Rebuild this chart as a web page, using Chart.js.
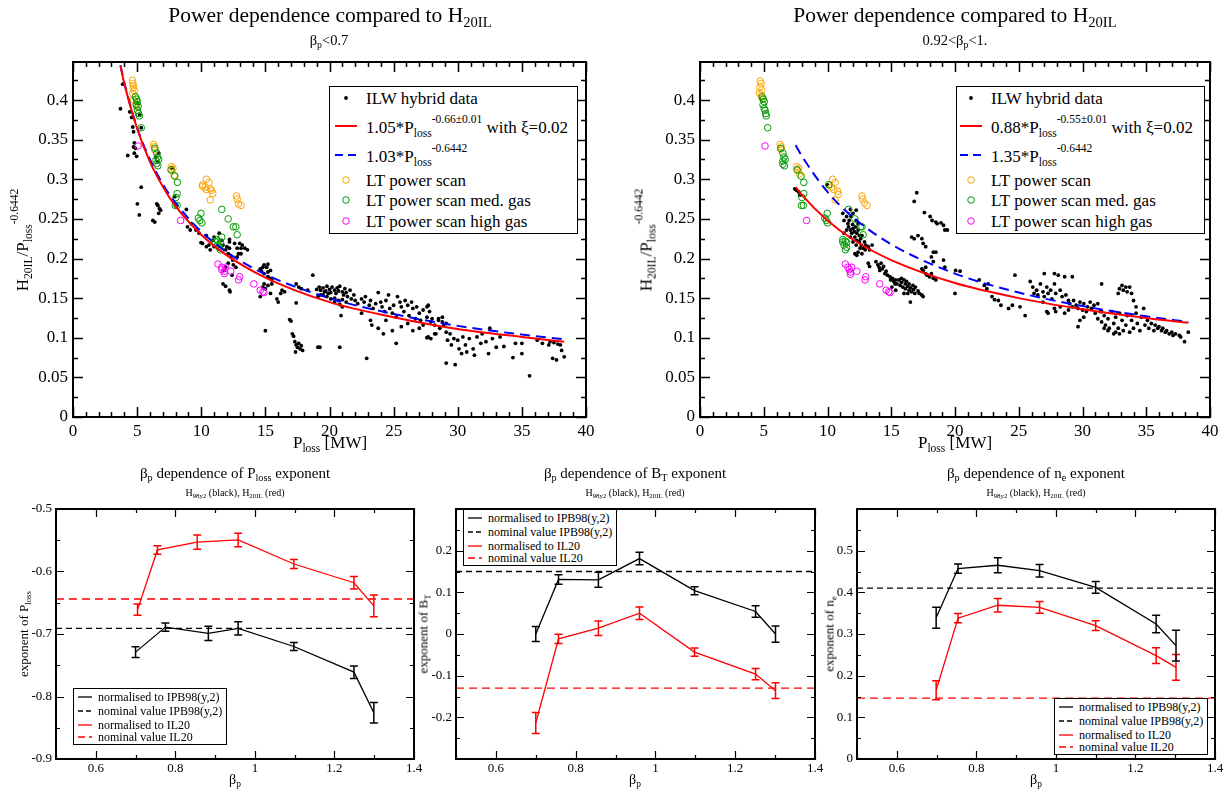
<!DOCTYPE html>
<html>
<head>
<meta charset="utf-8">
<script src="https://cdn.jsdelivr.net/npm/chart.js@4.4.1/dist/chart.umd.min.js"></script>
<style>
  html, body { margin: 0; padding: 0; background: #fff; }
  body { width: 1230px; height: 792px; position: relative; overflow: hidden; font-family: "Liberation Serif", "Times New Roman", serif; }
  canvas { position: absolute; }
  .lbl { position: absolute; white-space: nowrap; line-height: 1; color: #000; }
  .lbl sub { font-size: 0.68em; vertical-align: -0.35em; line-height: 0; }
  .lbl sup { font-size: 0.68em; vertical-align: 0.8em; line-height: 0; }
  .box { position: absolute; border: 1.5px solid #000; background: #fff; box-sizing: border-box; }
  svg.sym { position: absolute; overflow: visible; }
</style>
</head>
<body>
<canvas id="tl"></canvas>
<canvas id="tr"></canvas>
<canvas id="bl"></canvas>
<canvas id="bm"></canvas>
<canvas id="br"></canvas>
<script>
// ---------- top left: beta_p < 0.7 ----------
const tlHybrid = [
  [3.70,.389],[3.88,.420],[4.27,.330],[4.42,.385],[4.57,.378],[4.66,.366],[4.72,.360],[4.78,.346],[4.72,.341],[4.87,.339],
  [4.78,.333],[4.96,.329],[5.02,.269],[5.17,.255],[5.32,.290],[5.08,.396],[5.20,.381],[5.32,.365],
  [6.23,.248],[6.38,.246],[6.53,.269],[6.62,.267],[6.74,.263],[6.68,.257],[6.83,.261],[6.47,.328],[6.59,.322],[6.68,.333],
  [7.94,.278],[7.73,.314],[8.05,.267],
  [8.84,.262],[8.93,.240],[9.14,.236],[9.59,.236],[9.23,.244],[9.83,.232],[9.98,.220],[10.1,.219],[10.4,.229],[10.4,.215],
  [10.6,.217],[10.7,.211],[10.9,.223],[11.0,.227],[11.0,.215],
  [11.4,.232],[11.6,.223],[11.7,.217],[11.9,.211],[12.0,.215],[12.1,.206],[12.2,.221],[12.2,.213],[12.3,.202],[12.45,.198],
  [12.5,.192],[12.7,.189],[12.8,.202],[12.8,.213],[13.0,.219],[13.1,.213],[13.2,.217],[13.4,.213],[13.6,.211],[13.1,.206],
  [12.9,.206],[12.6,.219],[12.2,.224],
  [11.7,.168],[11.9,.165],[12.2,.160],[12.25,.158],[12.4,.179],[11.9,.189],[12.1,.194],[11.8,.185],
  [14.6,.187],[14.8,.189],[14.9,.192],[15.1,.189],[15.2,.193],[15.4,.185],[15.2,.183],[14.9,.181],[14.7,.184],[15.2,.177],
  [15.4,.175],[15.5,.173],[14.9,.168],[15.2,.166],[15.5,.168],[14.8,.164],[15.0,.162],[14.6,.152],[15.4,.156],[15.9,.149],
  [16.0,.145],[16.3,.160],[16.5,.158],[16.2,.156],[15.0,.109],
  [17.4,.168],[17.6,.164],[17.8,.162],[17.4,.144],[16.9,.123],[17.0,.121],[17.1,.105],[17.2,.102],[17.3,.095],[17.4,.091],
  [17.5,.088],[17.6,.093],[17.7,.086],[17.8,.090],[17.35,.082],[17.9,.084],
  [18.7,.179],[18.3,.160],[19.1,.088],[19.25,.088],[20.8,.088],[20.9,.128],[22.9,.074],
  [19.0,.161],[19.2,.164],[19.3,.160],[19.5,.163],[19.7,.159],[19.8,.165],[20.0,.161],[20.1,.157],[20.2,.164],[20.4,.160],
  [20.5,.156],[20.6,.163],[20.7,.159],[20.8,.165],[21.0,.158],[21.1,.154],[21.2,.162],[21.3,.157],[21.4,.152],[21.6,.160],
  [21.7,.149],[21.9,.154],[19.5,.154],[19.8,.152],[20.1,.149],[20.4,.150],[20.7,.147],[21.0,.148],[21.3,.145],[20.8,.142],
  [20.4,.145],[19.9,.156],[19.6,.158],[19.3,.154],[19.1,.152],[21.0,.139],[22.0,.147],[22.2,.143],
  [22.5,.149],[22.7,.145],[22.8,.152],[23.1,.141],[23.2,.147],[23.4,.137],[23.6,.143],[23.8,.157],[24.0,.145],[24.1,.139],
  [24.3,.133],[24.4,.147],[24.6,.154],[24.7,.137],[24.9,.131],[25.0,.141],[25.2,.126],[25.3,.152],[25.5,.145],[25.6,.139],
  [25.8,.133],[25.9,.147],[26.1,.141],[26.2,.128],[26.4,.145],[26.5,.137],[26.7,.124],[26.8,.139],[27.0,.131],[27.1,.122],
  [27.3,.135],[27.7,.141],[27.6,.126],[27.9,.120],[28.0,.124],[28.2,.116],[28.5,.122],[28.8,.126],[28.9,.116],[22.5,.131],
  [23.2,.122],[23.3,.116],[23.8,.112],[24.2,.105],[24.9,.109],[25.2,.093],[24.4,.122],[25.6,.114],[26.1,.118],[26.5,.109],
  [27.0,.112],[27.6,.100],[27.9,.099],[28.3,.105],[27.3,.116],[27.6,.139],[27.8,.133],[28.5,.124],[28.8,.120],[29.1,.118],
  [28.6,.112],[28.2,.105],[27.7,.101],
  [29.1,.107],[29.2,.097],[29.4,.105],[29.1,.068],[29.8,.066],[29.5,.091],[29.7,.099],[30.0,.097],[30.1,.086],[30.3,.080],
  [30.4,.101],[30.6,.091],[30.7,.082],[30.9,.099],[31.2,.086],[31.3,.078],[31.5,.101],[31.8,.093],[31.9,.105],[32.2,.095],
  [32.4,.080],[32.5,.112],[32.7,.099],[33.0,.088],[33.3,.101],[33.6,.089],[34.3,.075],[34.5,.093],[35.0,.080],[35.0,.093],
  [35.6,.052],[36.2,.097],[36.6,.093],[37.1,.091],[37.2,.095],[37.4,.074],[37.7,.072],[37.8,.092],[38.1,.084],[38.3,.076],
  [37.5,.094],[38.0,.091]
];
const tlOrange = [
  [4.63,.425],[4.66,.421],[4.72,.418],[4.69,.415],[4.78,.412],[4.66,.408],[4.87,.404],[4.72,.400],[4.93,.396],[4.96,.392],
  [6.29,.344],[6.35,.341],[6.38,.337],[7.67,.316],[7.79,.314],[7.73,.311],[7.88,.305],
  [10.1,.293],[10.4,.300],[10.6,.296],[10.3,.290],[10.4,.287],[10.7,.288],[10.8,.286],[10.7,.274],[10.9,.282],[10.1,.291],
  [12.75,.279],[12.8,.275],[12.9,.269],[13.1,.267]
];
const tlGreen = [
  [4.87,.404],[4.96,.401],[5.02,.398],[4.93,.394],[5.08,.392],[5.02,.387],[5.11,.383],[5.17,.380],[5.32,.365],
  [6.38,.339],[6.53,.333],[6.59,.328],[6.47,.324],[6.68,.325],[6.53,.320],[6.62,.317],
  [7.64,.312],[7.94,.304],[8.14,.296],[8.12,.282],[8.02,.277],[7.97,.267],[8.12,.267],
  [9.77,.251],[9.98,.257],[9.89,.248],[10.05,.245],
  [11.2,.224],[11.3,.222],[11.5,.220],[11.3,.217],[11.4,.214],[11.5,.211],[11.1,.221],[11.6,.227],
  [11.6,.262],[12.1,.250],[12.5,.240],[12.7,.240],[12.8,.230]
];
const tlMagenta = [
  [5.08,.342],[8.39,.248],[11.3,.193],[11.6,.189],[11.6,.186],[11.8,.184],[11.8,.181],[11.9,.189],[12.3,.184],
  [13.0,.177],[12.9,.173],[14.1,.168],[14.6,.160],[14.8,.158],[14.9,.157]
];
const tlFitP = [3.7, 4, 5, 6, 7, 8, 10, 12, 15, 20, 25, 30, 35, 38.3];
const tlFitRed = [0.443, 0.421, 0.364, 0.322, 0.291, 0.266, 0.230, 0.204, 0.176, 0.145, 0.126, 0.111, 0.101, 0.095];
const tlFitBlue = [0.444, 0.422, 0.365, 0.325, 0.294, 0.270, 0.234, 0.208, 0.180, 0.150, 0.130, 0.115, 0.104, 0.098];

// ---------- top right: 0.92 < beta_p < 1 ----------
const trHybrid = [
  [7.43,.288],[7.58,.286],[7.74,.284],[7.83,.280],[10.0,.293],
  [11.2,.257],[11.3,.248],[11.5,.253],[11.6,.244],[11.65,.240],[11.7,.248],[11.8,.236],[11.85,.253],[11.9,.232],[11.97,.243],
  [12.0,.238],[12.1,.234],[12.15,.227],[12.2,.240],[12.3,.232],[12.3,.223],[12.4,.236],[12.5,.229],[12.5,.221],[12.6,.225],
  [12.65,.217],[12.7,.229],[12.8,.213],[12.9,.221],[12.95,.211],[13.0,.217],[13.2,.215],[13.3,.211],[13.5,.217],[11.8,.227],
  [12.0,.221],[12.25,.217],[11.5,.236],[11.3,.232],[12.25,.248],[12.4,.244],[12.25,.261],[12.0,.257],[11.8,.262],[12.55,.213],
  [12.7,.206],[12.4,.208],[12.15,.206],[12.3,.204],
  [13.2,.194],[13.3,.190],[13.8,.196],[13.95,.192],[14.05,.189],[14.2,.194],[14.3,.187],[14.4,.190],[14.1,.185],[14.6,.184],
  [14.5,.181],
  [14.7,.179],[14.9,.177],[14.95,.173],[15.1,.175],[15.2,.171],[15.35,.173],[15.45,.168],[15.6,.173],[15.7,.166],[15.8,.175],
  [15.8,.170],[15.9,.164],[16.0,.173],[16.1,.168],[16.1,.162],[16.2,.171],[16.3,.165],[16.4,.160],[16.4,.168],[16.5,.163],
  [16.6,.158],[16.7,.166],[16.75,.161],[16.85,.156],[16.9,.164],[17.1,.159],[17.2,.156],[17.4,.154],[17.5,.152],[16.5,.145],
  [15.05,.164],[15.35,.160],[15.3,.168],[16.0,.156],[16.3,.156],
  [16.8,.272],[17.0,.283],[16.6,.227],[16.8,.225],[17.1,.229],[17.4,.225],[17.5,.219],[17.7,.215],[17.6,.258],[18.05,.253],
  [18.2,.248],[18.5,.246],[18.6,.244],[18.9,.245],[19.1,.242],[19.2,.236],[19.4,.236],[18.3,.208],[18.5,.208],[18.15,.202],
  [18.3,.196],[19.1,.198],[19.2,.189],
  [17.5,.185],[17.7,.181],[17.8,.179],[18.0,.177],[18.15,.181],[18.3,.175],[18.5,.173],[17.7,.189],[17.4,.187],
  [20.05,.185],[20.4,.184],[20.0,.156],[21.9,.173],[22.3,.166],[22.5,.162],[22.6,.168],[22.9,.152],[23.1,.148],[23.4,.147],
  [23.6,.141],[24.2,.137],[24.5,.141],[24.7,.179],[25.1,.139],[25.5,.128],
  [25.9,.171],[26.1,.164],[26.2,.156],[26.4,.160],[26.5,.154],[26.7,.168],[26.9,.158],[27.0,.152],[26.9,.145],[27.0,.181],
  [27.2,.164],[27.3,.156],[27.5,.160],[27.6,.149],[27.8,.168],[27.8,.181],[27.9,.156],[28.1,.179],[28.25,.160],[28.4,.152],
  [28.6,.177],[28.7,.154],[28.9,.147],[29.2,.177],[29.0,.143],[29.3,.147],[29.5,.141],[29.65,.137],[29.8,.145],[30.0,.135],
  [30.1,.143],[27.2,.133],[27.3,.131],[27.8,.137],[27.9,.133],[28.25,.139],[28.6,.131],[28.9,.135],[29.2,.139],[29.65,.114],
  [29.8,.122],[30.1,.126],[30.3,.133],
  [30.4,.139],[30.6,.145],[30.7,.137],[30.9,.141],[31.0,.131],[31.2,.124],[31.4,.133],[31.5,.168],[31.5,.120],[31.7,.128],
  [31.8,.116],[32.0,.124],[32.1,.112],[32.3,.133],[32.45,.118],[32.6,.126],[32.8,.112],[32.8,.156],[32.9,.162],[33.1,.166],
  [33.2,.160],[33.4,.164],[33.5,.158],[33.7,.164],[33.85,.156],[34.0,.147],[34.2,.139],[32.9,.131],[33.1,.122],[33.2,.109],
  [33.4,.116],[33.5,.128],[33.7,.107],[33.85,.122],[34.0,.112],[34.2,.131],[34.3,.118],[34.5,.109],[34.6,.126],[34.8,.137],
  [34.9,.116],[35.1,.122],[35.2,.112],[35.4,.118],[35.6,.109],[35.7,.116],[35.9,.112],[36.0,.114],[36.2,.109],[36.3,.112],
  [36.5,.107],[36.6,.109],[36.8,.105],[37.0,.107],[37.1,.103],[37.3,.105],[37.6,.103],[37.7,.101],[38.0,.095],[38.3,.107],
  [32.45,.105],[32.6,.107],[32.9,.105],[32.0,.109],[31.7,.112],[31.5,.133],[31.2,.143]
];
const trOrange = [
  [4.72,.424],[4.79,.421],[4.69,.416],[4.85,.413],[4.66,.409],[4.79,.406],[4.88,.402],
  [6.28,.344],[6.37,.341],[6.34,.338],[7.58,.316],[7.74,.314],[7.68,.311],[7.8,.307],
  [10.1,.293],[10.4,.300],[10.6,.296],[10.3,.290],[10.5,.287],[10.8,.285],[10.85,.281],[10.6,.274],
  [12.7,.279],[12.75,.275],[12.9,.270],[13.1,.267]
];
const trGreen = [
  [4.88,.404],[4.97,.401],[5.04,.398],[4.94,.394],[5.04,.389],[5.1,.387],[5.16,.383],[5.19,.380],[5.31,.365],
  [6.34,.339],[6.5,.333],[6.59,.328],[6.5,.323],[6.68,.325],[6.5,.319],[6.62,.317],
  [7.61,.312],[7.93,.304],[8.14,.296],[8.14,.282],[7.99,.277],[7.96,.267],[8.11,.267],
  [9.79,.251],[9.98,.257],[9.91,.248],[10.0,.245],[10.1,.293],
  [11.2,.224],[11.4,.222],[11.5,.220],[11.3,.217],[11.5,.214],[11.4,.211],[11.2,.221],
  [11.65,.262],[12.15,.250],[12.6,.240],[12.7,.240],[12.8,.230]
];
const trMagenta = [
  [5.1,.342],[8.36,.248],[11.4,.193],[11.6,.189],[11.7,.186],[11.8,.183],[11.8,.180],[11.9,.189],[12.3,.184],
  [13.0,.177],[12.95,.173],[14.1,.168],[14.6,.160],[14.8,.158],[14.9,.157]
];
const trFitRedP = [7.5, 8, 10, 12, 15, 20, 25, 30, 35, 38.3];
const trFitRed = [0.290, 0.280, 0.248, 0.224, 0.198, 0.169, 0.150, 0.136, 0.125, 0.119];
const trFitBlue = [0.343, 0.329, 0.284, 0.252, 0.218, 0.181, 0.157, 0.140, 0.127, 0.120];

// ---------- bottom: beta_p dependence of exponents ----------
const plossBetaBlack = [0.70, 0.775, 0.883, 0.958, 1.098, 1.249, 1.299];
const plossBlack = [-0.729, -0.689, -0.699, -0.691, -0.720, -0.761, -0.826];
const plossBlackErr = [0.0085, 0.0067, 0.0115, 0.0107, 0.0064, 0.010, 0.0165];
const plossBetaRed = [0.705, 0.755, 0.855, 0.958, 1.098, 1.249, 1.299];
const plossRed = [-0.661, -0.5655, -0.553, -0.5495, -0.588, -0.618, -0.655];
const plossRedErr = [0.009, 0.0067, 0.0115, 0.0107, 0.0072, 0.0099, 0.0173];
const plossNominal = [-0.691, -0.644];

const btBeta = [0.70, 0.757, 0.857, 0.96, 1.098, 1.251, 1.301];
const btBlack = [0.0, 0.131, 0.130, 0.181, 0.104, 0.054, 0.0];
const btBlackErr = [0.018, 0.0115, 0.018, 0.015, 0.0096, 0.0136, 0.0195];
const btRed = [-0.2136, -0.0116, 0.014, 0.05, -0.0435, -0.0962, -0.136];
const btRedErr = [0.025, 0.011, 0.0175, 0.015, 0.01, 0.0135, 0.019];
const btNominal = [0.15, -0.13];

const neBeta = [0.699, 0.754, 0.854, 0.959, 1.10, 1.252, 1.302];
const neBlack = [0.339, 0.457, 0.465, 0.452, 0.412, 0.324, 0.272];
const neBlackErr = [0.025, 0.011, 0.018, 0.015, 0.014, 0.021, 0.037];
const neRed = [0.165, 0.338, 0.369, 0.364, 0.320, 0.248, 0.220];
const neRedErr = [0.023, 0.011, 0.016, 0.014, 0.0116, 0.019, 0.031];
const neNominal = [0.41, 0.146];

const topXTicks = [0, 5, 10, 15, 20, 25, 30, 35, 40];
const topYTicks = [0, 0.05, 0.1, 0.15, 0.2, 0.25, 0.3, 0.35, 0.4];
const betaTicks = [0.6, 0.8, 1, 1.2, 1.4];
const plossTicks = [-0.9, -0.8, -0.7, -0.6, -0.5];
const btTicks = [-0.3, -0.2, -0.1, 0, 0.1, 0.2, 0.3];
const neTicks = [0, 0.1, 0.2, 0.3, 0.4, 0.5, 0.6];

// ---------- helpers ----------
const FONT = 'Liberation Serif';
const pts = arr => arr.map(([x, y]) => ({x, y}));
const zip = (xs, ys) => xs.map((x, i) => ({x, y: ys[i]}));
const fmt = v => String(parseFloat(v.toFixed(3)));

const frameTicks = {
  id: 'frameTicks',
  afterDraw(chart, args, o) {
    const {ctx, chartArea: a} = chart;
    const xs = chart.scales.x, ys = chart.scales.y;
    const steps = (s, step) => {
      const out = [];
      const n = Math.floor((s.max - s.min) / step + 1e-6);
      for (let i = 0; i <= n; i++) out.push(s.min + i * step);
      return out;
    };
    const isMajor = (s, v) => s.ticks.some(t => Math.abs(t.value - v) < 1e-6);
    ctx.save();
    ctx.strokeStyle = '#000';
    ctx.lineWidth = o.tickWidth;
    ctx.beginPath();
    steps(xs, o.xMinor).forEach(v => {
      const len = isMajor(xs, v) ? o.major : o.minor;
      const p = Math.round(xs.getPixelForValue(v)) + 0.5;
      ctx.moveTo(p, a.bottom); ctx.lineTo(p, a.bottom - len);
      ctx.moveTo(p, a.top); ctx.lineTo(p, a.top + len);
    });
    steps(ys, o.yMinor).forEach(v => {
      const len = isMajor(ys, v) ? o.major : o.minor;
      const p = Math.round(ys.getPixelForValue(v)) + 0.5;
      ctx.moveTo(a.left, p); ctx.lineTo(a.left + len, p);
      ctx.moveTo(a.right, p); ctx.lineTo(a.right - len, p);
    });
    ctx.stroke();
    ctx.lineWidth = o.frameWidth;
    ctx.strokeRect(a.left, a.top, a.width, a.height);
    ctx.restore();
  }
};

const errorBars = {
  id: 'errorBars',
  afterDatasetsDraw(chart) {
    const ctx = chart.ctx;
    const ys = chart.scales.y;
    chart.data.datasets.forEach((ds, i) => {
      if (!ds.errors) return;
      const meta = chart.getDatasetMeta(i);
      ctx.save();
      ctx.strokeStyle = ds.borderColor;
      ctx.lineWidth = 1.5;
      ctx.beginPath();
      meta.data.forEach((pt, j) => {
        const v = ds.data[j].y, e = ds.errors[j];
        const y1 = ys.getPixelForValue(v - e), y2 = ys.getPixelForValue(v + e);
        ctx.moveTo(pt.x, y1); ctx.lineTo(pt.x, y2);
        ctx.moveTo(pt.x - 4, y1); ctx.lineTo(pt.x + 4, y1);
        ctx.moveTo(pt.x - 4, y2); ctx.lineTo(pt.x + 4, y2);
      });
      ctx.stroke();
      ctx.restore();
    });
  }
};

function axis(min, max, ticks, hide, size, fit, isX, pad) {
  return {
    type: 'linear', min, max,
    afterBuildTicks: s => { s.ticks = ticks.map(v => ({value: v})); },
    afterFit: s => { if (isX) s.height = fit; else s.width = fit; },
    grid: {display: false, drawTicks: false},
    border: {display: false},
    ticks: {
      font: {family: FONT, size},
      color: '#000',
      padding: pad,
      autoSkip: false,
      maxRotation: 0,
      callback: v => hide.some(h => Math.abs(h - v) < 1e-9) ? '' : fmt(v)
    }
  };
}

function makeChart(id, box, layout, scales, datasets, frame) {
  const cv = document.getElementById(id);
  cv.width = box.w; cv.height = box.h;
  cv.style.left = box.left + 'px'; cv.style.top = box.top + 'px';
  cv.style.width = box.w + 'px'; cv.style.height = box.h + 'px';
  return new Chart(cv.getContext('2d'), {
    type: 'scatter',
    data: {datasets},
    options: {
      responsive: false,
      animation: false,
      events: [],
      layout: {padding: {top: layout.top, right: layout.right, left: 0, bottom: 0}},
      scales,
      plugins: {legend: {display: false}, tooltip: {enabled: false}, frameTicks: frame}
    },
    plugins: [frameTicks, errorBars]
  });
}

const curveDs = (data, color, dash) => ({
  data, showLine: true, borderColor: color, borderWidth: 2, borderDash: dash || [],
  pointRadius: 0, cubicInterpolationMode: 'monotone'
});
const ringDs = (data, color) => ({
  data, showLine: false, pointRadius: 3.3, pointBorderColor: color, pointBackgroundColor: 'rgba(0,0,0,0)', pointBorderWidth: 1
});
const dotDs = data => ({
  data, showLine: false, pointRadius: 1.9, pointBackgroundColor: '#000', pointBorderWidth: 0
});
const expDs = (xs, ys, errs, color) => ({
  data: zip(xs, ys), errors: errs, showLine: true, borderColor: color, borderWidth: 1.3, pointRadius: 0
});
const nomDs = (v, color, dash) => ({
  data: [{x: 0.5, y: v}, {x: 1.4, y: v}], showLine: true, borderColor: color, borderWidth: 1.3, borderDash: dash, pointRadius: 0
});

const topFrame = {tickWidth: 1.5, frameWidth: 2, major: 10, minor: 5, xMinor: 1, yMinor: 0.025};
const botFrame = {tickWidth: 1.2, frameWidth: 2, major: 8, minor: 4, xMinor: 0.1, yMinor: 0.05};

makeChart('tl', {left: 0, top: 0, w: 615, h: 460}, {top: 62, right: 29}, {
  x: axis(0, 40, topXTicks, [], 17, 43, true, 4),
  y: axis(0, 0.448, topYTicks, [], 17, 73, false, 5)
}, [
  curveDs(zip(tlFitP, tlFitRed), '#ff0000'),
  curveDs(zip(tlFitP, tlFitBlue), '#0000ff', [10, 6]),
  ringDs(pts(tlMagenta), '#ff00ff'),
  ringDs(pts(tlGreen), '#009a00'),
  ringDs(pts(tlOrange), '#ffa500'),
  dotDs(pts(tlHybrid))
], topFrame);

makeChart('tr', {left: 615, top: 0, w: 615, h: 460}, {top: 62, right: 20}, {
  x: axis(0, 40, topXTicks, [], 17, 43, true, 4),
  y: axis(0, 0.448, topYTicks, [], 17, 85, false, 5)
}, [
  curveDs(zip(trFitRedP, trFitRed), '#ff0000'),
  curveDs(zip(trFitRedP, trFitBlue), '#0000ff', [10, 6]),
  ringDs(pts(trMagenta), '#ff00ff'),
  ringDs(pts(trGreen), '#009a00'),
  ringDs(pts(trOrange), '#ffa500'),
  dotDs(pts(trHybrid))
], topFrame);

makeChart('bl', {left: 0, top: 460, w: 430, h: 332}, {top: 49, right: 16}, {
  x: axis(0.5, 1.4, betaTicks, [], 13, 33, true, 2),
  y: axis(-0.9, -0.5, plossTicks, [], 13, 56, false, 4)
}, [
  expDs(plossBetaRed, plossRed, plossRedErr, '#ff0000'),
  nomDs(plossNominal[1], '#ff0000', [8, 5]),
  expDs(plossBetaBlack, plossBlack, plossBlackErr, '#000000'),
  nomDs(plossNominal[0], '#000000', [6, 4])
], botFrame);

makeChart('bm', {left: 420, top: 460, w: 410, h: 332}, {top: 49, right: 15}, {
  x: axis(0.5, 1.4, betaTicks, [], 13, 33, true, 2),
  y: axis(-0.3, 0.3, btTicks, [-0.3, 0.3], 13, 36, false, 4)
}, [
  expDs(btBeta, btRed, btRedErr, '#ff0000'),
  nomDs(btNominal[1], '#ff0000', [8, 5]),
  expDs(btBeta, btBlack, btBlackErr, '#000000'),
  nomDs(btNominal[0], '#000000', [6, 4])
], botFrame);

makeChart('br', {left: 825, top: 460, w: 405, h: 332}, {top: 49, right: 15}, {
  x: axis(0.5, 1.4, betaTicks, [], 13, 33, true, 2),
  y: axis(0, 0.6, neTicks, [0.6], 13, 32, false, 4)
}, [
  expDs(neBeta, neRed, neRedErr, '#ff0000'),
  nomDs(neNominal[1], '#ff0000', [8, 5]),
  expDs(neBeta, neBlack, neBlackErr, '#000000'),
  nomDs(neNominal[0], '#000000', [6, 4])
], botFrame);

// ---------- text and legends ----------
function put(html, x, y, size, o = {}) {
  const d = document.createElement('div');
  d.className = 'lbl';
  d.innerHTML = html;
  d.style.left = x + 'px';
  d.style.top = y + 'px';
  d.style.fontSize = size + 'px';
  const tx = o.left ? '0' : '-50%';
  d.style.transform = `translate(${tx},-50%)` + (o.rotate ? ' rotate(-90deg)' : '');
  document.body.appendChild(d);
  return d;
}
function boxAt(x, y, w, h, bw) {
  const d = document.createElement('div');
  d.className = 'box';
  Object.assign(d.style, {left: x + 'px', top: y + 'px', width: w + 'px', height: h + 'px', borderWidth: bw + 'px'});
  document.body.appendChild(d);
}
function svgLine(x1, x2, y, color, dash, width) {
  const s = document.createElementNS('http://www.w3.org/2000/svg', 'svg');
  s.setAttribute('class', 'sym');
  s.setAttribute('width', x2 - x1); s.setAttribute('height', 6);
  s.style.left = x1 + 'px'; s.style.top = (y - 3) + 'px';
  s.innerHTML = `<line x1="0" y1="3" x2="${x2 - x1}" y2="3" stroke="${color}" stroke-width="${width}" ${dash ? `stroke-dasharray="${dash}"` : ''}/>`;
  document.body.appendChild(s);
}
function svgMark(x, y, color, filled) {
  const s = document.createElementNS('http://www.w3.org/2000/svg', 'svg');
  s.setAttribute('class', 'sym');
  s.setAttribute('width', 10); s.setAttribute('height', 10);
  s.style.left = (x - 5) + 'px'; s.style.top = (y - 5) + 'px';
  s.innerHTML = filled
    ? `<circle cx="5" cy="5" r="1.9" fill="${color}"/>`
    : `<circle cx="5" cy="5" r="3.3" fill="none" stroke="${color}" stroke-width="1"/>`;
  document.body.appendChild(s);
}

// top titles
put('Power dependence compared to H<sub>20IL</sub>', 330, 16, 21.5);
put('β<sub>p</sub>&lt;0.7', 329, 40, 14.5);
put('Power dependence compared to H<sub>20IL</sub>', 955, 16, 21.5);
put('0.92&lt;β<sub>p</sub>&lt;1.', 955, 40, 14.5);
put('P<sub>loss</sub> [MW]', 330, 442, 17);
put('P<sub>loss</sub> [MW]', 955, 442, 17);
put('H<sub>20IL</sub>/P<sub>loss</sub><sup>-0.6442</sup>', 22, 240, 17, {rotate: true});
put('H<sub>20IL</sub>/P<sub>loss</sub><sup>-0.6442</sup>', 646, 240, 17, {rotate: true});

// top legends
const topLegends = [
  {x: 329, sx: 346, tx: 366, red: '1.05*P<sub>loss</sub><sup>-0.66±0.01</sup> with ξ=0.02', blue: '1.03*P<sub>loss</sub><sup>-0.6442</sup>'},
  {x: 956, sx: 971, tx: 991, red: '0.88*P<sub>loss</sub><sup>-0.55±0.01</sup> with ξ=0.02', blue: '1.35*P<sub>loss</sub><sup>-0.6442</sup>'}
];
topLegends.forEach(L => {
  boxAt(L.x, 86, 249, 148, 1.5);
  svgMark(L.sx, 98, '#000', true);
  put('ILW hybrid data', L.tx, 98, 17, {left: true});
  svgLine(L.sx - 11, L.sx + 11, 126, '#ff0000', null, 2);
  put(L.red, L.tx, 127, 17, {left: true});
  svgLine(L.sx - 11, L.sx + 11, 155, '#0000ff', '8,5', 2);
  put(L.blue, L.tx, 156, 17, {left: true});
  svgMark(L.sx, 180, '#ffa500', false);
  put('LT power scan', L.tx, 180, 17, {left: true});
  svgMark(L.sx, 200, '#009a00', false);
  put('LT power scan med. gas', L.tx, 200, 17, {left: true});
  svgMark(L.sx, 221, '#ff00ff', false);
  put('LT power scan high gas', L.tx, 221, 17, {left: true});
});

// bottom titles
const bottoms = [
  {cx: 235, title: 'β<sub>p</sub> dependence of P<sub>loss</sub> exponent', yl: 'exponent of P<sub>loss</sub>', ylx: 23, lg: {x: 73, y: 688}},
  {cx: 635, title: 'β<sub>p</sub> dependence of B<sub>T</sub> exponent', yl: 'exponent of B<sub>T</sub>', ylx: 423, lg: {x: 463, y: 509}},
  {cx: 1036, title: 'β<sub>p</sub> dependence of n<sub>e</sub> exponent', yl: 'exponent of n<sub>e</sub>', ylx: 829, lg: {x: 1054, y: 698}}
];
bottoms.forEach(B => {
  put(B.title, B.cx, 473, 15);
  put('H<sub>98y2</sub> (black), H<sub>20IL</sub> (red)', B.cx, 493, 10);
  put('β<sub>p</sub>', B.cx, 780, 14);
  put(B.yl, B.ylx, 634, 13, {rotate: true});
  const {x, y} = B.lg;
  boxAt(x, y, 154, 57, 1.2);
  const rows = [
    ['#000000', null, 'normalised to IPB98(y,2)'],
    ['#000000', '5,3', 'nominal value IPB98(y,2)'],
    ['#ff0000', null, 'normalised to IL20'],
    ['#ff0000', '7,4', 'nominal value IL20']
  ];
  const dy = [9, 23, 37, 49];
  rows.forEach((r, i) => {
    svgLine(x + 5, x + 19, y + dy[i], r[0], r[1], 1.3);
    put(r[2], x + 25, y + dy[i], 12, {left: true});
  });
});
</script>
</body>
</html>
